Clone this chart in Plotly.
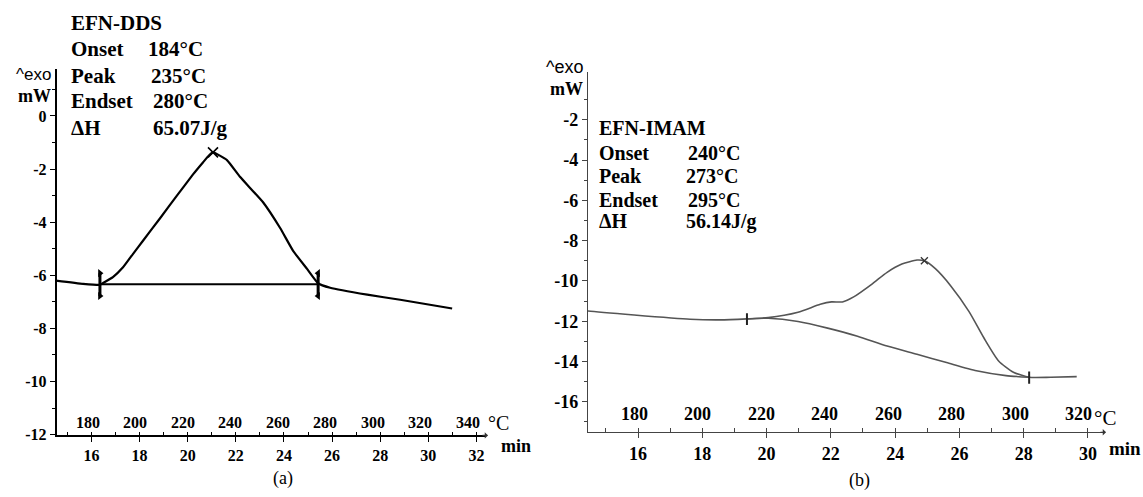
import plotly.graph_objects as go

W, H = 1143, 497

# ---------------- panel (a): EFN-DDS ----------------
a_time = [14.36, 15.65, 16.35, 16.48, 16.89, 17.31, 17.72, 18.14, 18.85, 19.55, 20.22, 20.64, 20.89,
          21.05, 21.63, 22.17, 23.13, 23.84, 24.38, 24.96, 25.42, 25.92, 27.46, 28.83, 30.99]
a_heat = [-6.18, -6.32, -6.36, -6.29, -6.07, -5.70, -5.20, -4.70, -3.85, -3.00, -2.20, -1.74, -1.48,
          -1.37, -1.66, -2.29, -3.25, -4.22, -5.08, -5.76, -6.30, -6.47, -6.73, -6.92, -7.25]
a_base_time = [16.35, 25.42]
a_base_heat = [-6.34, -6.34]
a_peak_time = [21.05]
a_peak_heat = [-1.37]
a_mark_top = [-5.92, -5.92]
a_mark_bottom = [-6.78, -6.78]

# ---------------- panel (b): EFN-IMAM ----------------
b_time = [13.86, 14.44, 15.88, 17.62, 18.55, 19.39, 20.05, 20.98, 21.67, 22.02, 22.36, 22.71,
          23.29, 23.75, 24.21, 24.68, 24.91, 25.26, 25.72, 26.30, 26.76, 27.22, 27.68, 28.17,
          28.84, 29.65]
b_heat = [-11.36, -11.49, -11.69, -11.90, -11.93, -11.88, -11.82, -11.55, -11.16, -11.04, -11.04, -10.79,
          -10.14, -9.57, -9.16, -8.96, -9.00, -9.40, -10.22, -11.52, -12.82, -13.97, -14.53, -14.78,
          -14.78, -14.75]
b_base_time = [19.39, 20.05, 20.98, 21.90, 22.83, 23.75, 24.68, 25.60, 26.53, 27.45, 28.17]
b_base_heat = [-11.88, -11.85, -12.01, -12.34, -12.74, -13.23, -13.64, -14.05, -14.46, -14.70, -14.78]
b_peak_time = [24.91]
b_peak_heat = [-9.00]
b_mark_time = [19.39, 28.17]
b_mark_top = [-11.60, -14.50]
b_mark_bottom = [-12.18, -15.10]

# ---------------- ticks / labels ----------------
a_y_ticks = [0, -2, -4, -6, -8, -10, -12]
a_y_text = ["0", "-2", "-4", "-6", "-8", "-10", "-12"]
a_y_minor = [1, -1, -3, -5, -7, -9, -11]
a_min_ticks = [16, 18, 20, 22, 24, 26, 28, 30, 32]
a_temp_ticks = [180, 200, 220, 240, 260, 280, 300, 320, 340]

b_y_ticks = [-2, -4, -6, -8, -10, -12, -14, -16]
b_y_text = ["-2", "-4", "-6", "-8", "-10", "-12", "-14", "-16"]
b_y_minor = [-1, -3, -5, -7, -9, -11, -13, -15, -17]
b_min_ticks = [16, 18, 20, 22, 24, 26, 28, 30]
b_temp_ticks = [180, 200, 220, 240, 260, 280, 300, 320]

# temperature scale printed above the time axis (heating rate, °C/min; time at 180 °C)
heat_rate = 10.13
a_t_at_180 = 15.834
b_t_at_180 = 15.888

info_labels = ["Onset", "Peak", "Endset", "ΔH"]
a_title = "EFN-DDS"
a_values = ["184°C", "235°C", "280°C", "65.07J/g"]
b_title = "EFN-IMAM"
b_values = ["240°C", "273°C", "295°C", "56.14J/g"]


def px(x):
    return x / W


def py(y):
    return 1 - y / H


def bold(vals):
    return ["<b>%s</b>" % v for v in vals]


SERIF = "Liberation Serif"
SANS = "Liberation Sans"

fig = go.Figure()

# panel (a) traces
fig.add_trace(go.Scatter(x=a_time, y=a_heat, mode="lines", line=dict(color="black", width=2.2, shape="spline", smoothing=0.4),
                         xaxis="x", yaxis="y", showlegend=False, hoverinfo="skip"))
fig.add_trace(go.Scatter(x=a_base_time, y=a_base_heat, mode="lines", line=dict(color="black", width=2),
                         xaxis="x", yaxis="y", showlegend=False, hoverinfo="skip"))
for i, sym in enumerate(["triangle-right", "triangle-left"]):
    fig.add_trace(go.Scatter(x=[a_base_time[i], a_base_time[i]], y=[a_mark_top[i], a_mark_bottom[i]],
                             mode="lines+markers", line=dict(color="black", width=3),
                             marker=dict(symbol=sym, size=7, color="black"),
                             xaxis="x", yaxis="y", showlegend=False, hoverinfo="skip"))
fig.add_trace(go.Scatter(x=a_peak_time, y=a_peak_heat, mode="markers",
                         marker=dict(symbol="x-thin-open", size=10, color="black", line=dict(color="black", width=1.6)),
                         xaxis="x", yaxis="y", showlegend=False, hoverinfo="skip"))

# panel (b) traces
GRAY = "#555555"
fig.add_trace(go.Scatter(x=b_time, y=b_heat, mode="lines", line=dict(color=GRAY, width=1.6, shape="spline", smoothing=0.6),
                         xaxis="x2", yaxis="y2", showlegend=False, hoverinfo="skip"))
fig.add_trace(go.Scatter(x=b_base_time, y=b_base_heat, mode="lines", line=dict(color=GRAY, width=1.6, shape="spline", smoothing=0.6),
                         xaxis="x2", yaxis="y2", showlegend=False, hoverinfo="skip"))
for i in range(2):
    fig.add_trace(go.Scatter(x=[b_mark_time[i], b_mark_time[i]], y=[b_mark_top[i], b_mark_bottom[i]],
                             mode="lines", line=dict(color="#222222", width=2),
                             xaxis="x2", yaxis="y2", showlegend=False, hoverinfo="skip"))
fig.add_trace(go.Scatter(x=b_peak_time, y=b_peak_heat, mode="markers",
                         marker=dict(symbol="x-thin-open", size=7, color="#333333", line=dict(color="#333333", width=1.3)),
                         xaxis="x2", yaxis="y2", showlegend=False, hoverinfo="skip"))


def tfont(size):
    return dict(family=SERIF, size=size, color="black")


# domains (from pixel positions)
a_xdom = [px(56.5), px(486)]
a_ydom = [py(442.5), py(70)]
b_xdom = [px(588), px(1104)]
b_ydom = [py(439.3), py(73.3)]

fig.update_layout(
    width=W, height=H, margin=dict(l=0, r=0, t=0, b=0),
    paper_bgcolor="white", plot_bgcolor="white", showlegend=False,
    font=dict(family=SERIF, color="black"),
    xaxis=dict(domain=a_xdom, range=[14.545, 32.397], anchor="y", tickvals=a_min_ticks,
               ticktext=bold(a_min_ticks), tickfont=tfont(16),
               showgrid=False, zeroline=False, showline=True, linecolor="black", linewidth=1.5,
               ticks="outside", ticklen=5, tickwidth=1.3, tickcolor="black",
               minor=dict(dtick=1, tick0=0, ticks="inside", ticklen=4, tickcolor="black", tickwidth=1.2)),
    yaxis=dict(domain=a_ydom, range=[-12.03, 1.775], anchor="x", tickvals=a_y_ticks, ticktext=bold(a_y_text),
               tickfont=tfont(16), showgrid=False, zeroline=False, showline=True, linecolor="black",
               linewidth=1.5, ticks="outside", ticklen=5, tickwidth=1.3, tickcolor="black",
               minor=dict(tickvals=a_y_minor, ticks="outside", ticklen=3, tickcolor="black")),
    xaxis2=dict(domain=b_xdom, range=[14.444, 30.499], anchor="y2", tickvals=b_min_ticks,
                ticktext=bold(b_min_ticks), tickfont=tfont(18),
                showgrid=False, zeroline=False, showline=True, linecolor="#444444", linewidth=1.3,
                ticks="outside", ticklen=5, tickwidth=1.2, tickcolor="#444444",
                minor=dict(dtick=1, tick0=0, ticks="inside", ticklen=4, tickcolor="#444444", tickwidth=1.1)),
    yaxis2=dict(domain=b_ydom, range=[-17.51, 0.37], anchor="x2", tickvals=b_y_ticks, ticktext=bold(b_y_text),
                tickfont=tfont(18), showgrid=False, zeroline=False, showline=True, linecolor="#444444",
                linewidth=1.3, ticks="outside", ticklen=5, tickwidth=1.2, tickcolor="#444444",
                minor=dict(tickvals=b_y_minor, ticks="outside", ticklen=3, tickcolor="#444444")),
)

ann = []


def text(x, y, s, size, family=SERIF, is_bold=True, xanchor="left", xref="paper"):
    ann.append(dict(x=x if xref != "paper" else px(x), y=py(y), xref=xref, yref="paper",
                    text=("<b>%s</b>" % s) if is_bold else s, showarrow=False,
                    xanchor=xanchor, yanchor="middle",
                    font=dict(family=family, size=size, color="black")))


# temperature scale labels, placed on the time axes
for T in a_temp_ticks:
    text(a_t_at_180 + (T - 180) / heat_rate, 429, str(T), 16, xanchor="center", xref="x")
for T in b_temp_ticks:
    text(b_t_at_180 + (T - 180) / heat_rate, 421, str(T), 18, xanchor="center", xref="x2")

# panel (a) info block
text(69, 23, a_title, 21)
a_rows = [50, 77, 103, 130]
a_val_x = [146, 149, 151, 151]
for lab, val, yy, vx in zip(info_labels, a_values, a_rows, a_val_x):
    text(69, yy, lab, 21)
    text(vx, yy, val, 21)

# panel (b) info block
text(597, 130, b_title, 20)
b_rows = [156, 179, 203, 225]
b_val_x = [686, 684, 686, 684]
for lab, val, yy, vx in zip(info_labels, b_values, b_rows, b_val_x):
    text(597, yy, lab, 20)
    text(vx, yy, val, 20)

# axis captions
text(53, 76, "^exo", 17, family=SANS, is_bold=False, xanchor="right")
text(53, 98, "mW", 18, xanchor="right")
text(585, 68, "^exo", 18, family=SANS, is_bold=False, xanchor="right")
text(585, 90, "mW", 18, xanchor="right")

text(486, 430, "°C", 20, is_bold=False)
text(499, 453, "min", 18)
text(1092, 425, "°C", 21, is_bold=False)
text(1107, 456, "min", 19)

text(283, 486, "(a)", 18, is_bold=False, xanchor="center")
text(859, 488, "(b)", 18, is_bold=False, xanchor="center")

# small arrow tips at the right end of the time axes
for xe, ye in [(488, 442.5), (1106, 439.3)]:
    ann.append(dict(x=px(xe), y=py(ye), xref="paper", yref="paper", ax=-7, ay=0, text="",
                    showarrow=True, arrowhead=1, arrowsize=0.9, arrowwidth=1.2, arrowcolor="#333333"))

fig.update_layout(annotations=ann)

fig.write_html("out.html")
